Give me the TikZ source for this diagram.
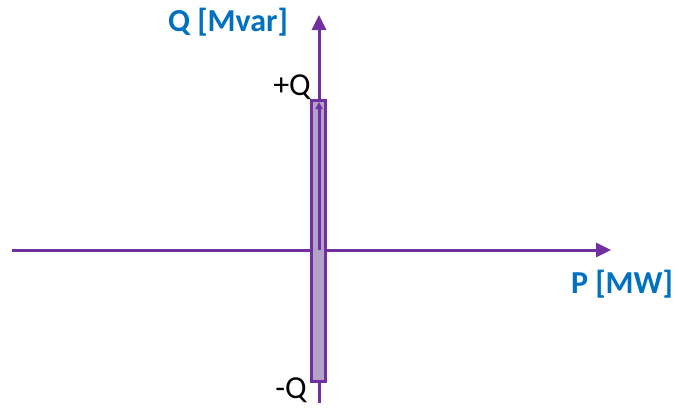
\documentclass[tikz,border=0pt]{standalone}
\usepackage{fontspec}
\setmainfont{Carlito}
\usetikzlibrary{arrows.meta,positioning}
\definecolor{Axis}{HTML}{7030A0}
\definecolor{Band}{HTML}{B3A2C7}
\definecolor{Label}{HTML}{0070C0}
\tikzset{
  axis/.style={-{Triangle[length=15pt,width=14pt]},draw=Axis,line width=3pt},
  band/.style={draw=Axis,fill=Band,line width=3pt,minimum width=14pt,minimum height=281pt,inner sep=0pt},
  inner/.style={-{Triangle[length=7pt,width=7pt]},draw=Axis,line width=3pt},
  axlabel/.style={font=\fontsize{32}{36}\selectfont\bfseries,text=Label,inner sep=0pt},
  tick/.style={font=\fontsize{32}{36}\selectfont,text=black,inner sep=0pt}
}

\begin{document}
\begin{tikzpicture}[x=1pt,y=-1pt]
  \useasboundingbox (0,0) rectangle (679,407);
  \coordinate (O) at (319,250);
  \coordinate (west) at (12,250);
  \coordinate (east) at (611,250);
  \coordinate (south) at (319,403);
  \coordinate (north) at (319,15);
  \draw[axis] (west) -- (east);
  \draw[axis] (south) -- (north);
  \node[band] (range) at (318.5,241) {};
  \coordinate (qmax) at (319,102);
  \draw[inner] (O) -- (qmax);
  \node[axlabel] (qlabel) at (228,22) {Q [Mvar]};
  \node[axlabel] (plabel) at (622,284) {P [MW]};
  \node[tick] (qplus) at (292,87) {+Q};
  \node[tick] (qminus) at (291,390) {-Q};
\end{tikzpicture}
\end{document}
